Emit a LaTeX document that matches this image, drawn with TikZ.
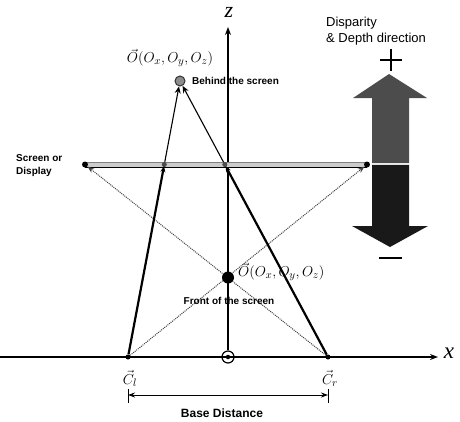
\documentclass[tikz,border=0pt]{standalone}
\usepackage{fontspec}
\setmainfont{Liberation Sans}
\newfontfamily\tms{Liberation Serif}
\usetikzlibrary{arrows.meta}
\tikzset{
  axisline/.style={line width=1.1pt,-{Stealth[length=8pt,width=6pt]}},
  thickray/.style={line width=2.2pt,-{Stealth[length=6pt,width=5pt]},shorten >=-1pt},
  thinray/.style={line width=1.1pt,-{Stealth[length=7pt,width=6pt]}},
  dotray/.style={line width=1pt,black!75,densely dotted,-{Stealth[length=7pt,width=5pt]}},
  sdot/.style={circle,fill=black,inner sep=0pt,minimum size=5pt},
  blab/.style={font=\fontsize{10}{12}\selectfont\bfseries,inner sep=0pt},
  mlab/.style={font=\fontsize{15}{17}\selectfont,inner sep=0pt},
  pm/.style={line width=1.8pt},
}
\begin{document}
\begin{tikzpicture}[x=1pt,y=-1pt]
\useasboundingbox (0,0) rectangle (460,421);
% axes
\coordinate (xstart) at (0,357);
\coordinate (xtip) at (438,357);
\coordinate (ztip) at (228,27);
\node[circle,draw=black,line width=1.2pt,fill=white,minimum size=12pt,inner sep=0pt] (Org) at (228,357) {};
\draw[axisline] (xstart) -- (xtip);
\draw[axisline] (Org) -- (ztip);
\node[inner sep=0pt,font=\fontsize{23}{25}\selectfont\tms\itshape] (xl) at (449,353) {x};
\node[inner sep=0pt,font=\fontsize{22}{24}\selectfont\tms\itshape] (zl) at (229,12) {z};
\node[circle,fill=black,inner sep=0pt,minimum size=4.5pt] (OrgDot) at (Org) {};
% screen bar
\fill[gray!40] (85,162) rectangle (367,167);
\draw[line width=0.6pt,gray] (85,162) -- (367,162);
\draw[line width=1pt] (85,167) -- (367,167);
\node[sdot,minimum size=6pt] (SL) at (85,164.5) {};
\node[sdot,minimum size=6pt] (SR) at (367,164.5) {};
\node[sdot,fill=black!70,minimum size=5pt] (S1) at (164.3,164.5) {};
\node[sdot,fill=black!70,minimum size=5pt] (S2) at (224.8,164.5) {};
% cameras
\node[sdot] (Cl) at (128,357) {};
\node[sdot] (Cr) at (328,357) {};
% objects
\node[circle,draw=black!80,line width=1pt,fill=black!45,minimum size=10pt,inner sep=0pt] (Ob) at (180,81) {};
% dotted rays through front object
\draw[dotray] (Cl) -- (SR);
\draw[dotray] (Cr) -- (SL);
\node[circle,fill=black,minimum size=12pt,inner sep=0pt] (Of) at (228,277.5) {};
% rays to behind object
\draw[thickray] (Cl) -- (S1);
\draw[thickray] (Cr) -- (S2);
\draw[thinray] (S1) -- (Ob);
\draw[thinray] (S2) -- (Ob);
% labels
\node[mlab] (Obl) at (170,58) {$\vec{O}(O_x,O_y,O_z)$};
\node[blab,anchor=west] (Obt) at (192,81) {Behind the screen};
\node[mlab,anchor=west] (Ofl) at (238,272) {$\vec{O}(O_x,O_y,O_z)$};
\node[blab] (Oft) at (229,301) {Front of the screen};
\node[blab,anchor=west,align=left,font=\fontsize{10}{13}\selectfont\bfseries] (scr) at (16,165.5) {Screen or\\Display};
\node[mlab] (Cll) at (130,378.5) {$\vec{C}_l$};
\node[mlab] (Crl) at (330,378.5) {$\vec{C}_r$};
% base distance
\coordinate (dL) at (128,395);
\coordinate (dR) at (328,395);
\draw[line width=1pt] (128,389) -- (128,403);
\draw[line width=1pt] (328,389) -- (328,403);
\draw[line width=0.9pt,{Stealth[length=7pt,width=5pt]}-{Stealth[length=7pt,width=5pt]}] (dL) -- (dR);
\node[inner sep=0pt,font=\fontsize{12}{14}\selectfont\bfseries] (bd) at (222,413) {Base Distance};
% disparity arrows
\fill[black!70] (389,74) -- (427,98) -- (409,98) -- (409,163) -- (372,163) -- (372,98) -- (353,98) -- cycle;
\fill[black!90] (372,164.8) -- (409,164.8) -- (409,226) -- (428,226) -- (390,247) -- (352,226) -- (372,226) -- cycle;
\node[anchor=west,align=left,inner sep=0pt,font=\fontsize{13}{16}\selectfont] (disp) at (326,31) {Disparity\\\& Depth direction};
\draw[pm] (380,60) -- (402,60);
\draw[pm] (391,49) -- (391,71);
\draw[pm] (379,258) -- (402,258);
\end{tikzpicture}
\end{document}
